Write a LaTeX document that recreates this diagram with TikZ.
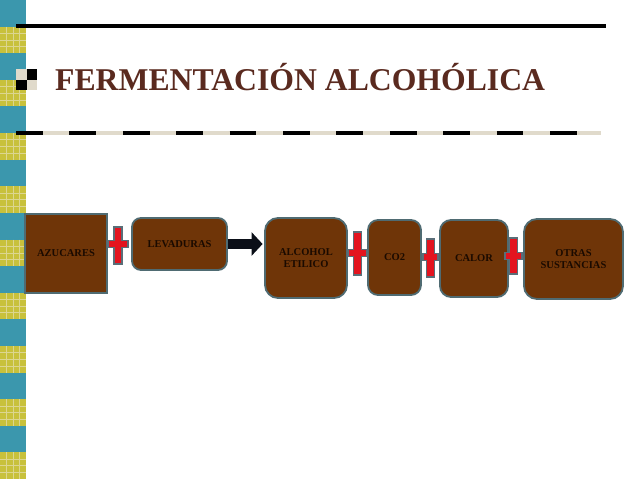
\documentclass[tikz,border=0pt]{standalone}
\usepackage{fontspec}
\setmainfont{Liberation Serif}
\usetikzlibrary{arrows.meta}
\definecolor{stripeteal}{HTML}{3B97AD}
\definecolor{stripeyel}{HTML}{C8C13C}
\definecolor{gridyel}{HTML}{DCD690}
\definecolor{beigec}{HTML}{E0DACB}
\definecolor{titlec}{HTML}{5A2A1F}
\definecolor{boxfill}{HTML}{6F3508}
\definecolor{boxline}{HTML}{4F6B72}
\definecolor{boxtext}{HTML}{1A0A00}
\definecolor{plusred}{HTML}{E3141F}
\definecolor{plusline}{HTML}{5A6E78}
\definecolor{arrowc}{HTML}{0B0F18}
\tikzset{
  stepbox/.style={draw=boxline, line width=1.8pt, fill=boxfill, text=boxtext,
    font=\bfseries\fontsize{10.5}{12.5}\selectfont, align=center, inner sep=0pt},
  plusst/.style={fill=plusred, draw=plusline, line width=1.3pt, line join=miter},
  arrowst/.style={draw=arrowc, line width=10pt, -{Triangle[length=11pt,width=23pt]}}
}
\newcommand\plussign[5]{%
  \filldraw[plusst] ({#1-4},#2) -- ({#1+4},#2) -- ({#1+4},{#5-3.5}) -- ({#1+#4/2},{#5-3.5})
   -- ({#1+#4/2},{#5+3.5}) -- ({#1+4},{#5+3.5}) -- ({#1+4},#3) -- ({#1-4},#3)
   -- ({#1-4},{#5+3.5}) -- ({#1-#4/2},{#5+3.5}) -- ({#1-#4/2},{#5-3.5}) -- ({#1-4},{#5-3.5}) -- cycle;}
\begin{document}
\begin{tikzpicture}[x=1pt,y=-1pt]
\useasboundingbox (0,0) rectangle (638,479);
\fill[white] (0,0) rectangle (638,479);
% left stripe
\foreach \i in {0,2,...,16}{
  \fill[stripeteal] (0,{\i*26.611}) rectangle (26,{(\i+1)*26.611});
  \fill[stripeyel] (0,{(\i+1)*26.611}) rectangle (26,{(\i+2)*26.611});
  \foreach \gx in {6.5,13,19.5}
    \draw[gridyel, line width=0.5pt] (\gx,{(\i+1)*26.611}) -- (\gx,{(\i+2)*26.611});
  \foreach \gy in {6.6,13.3,20}
    \draw[gridyel, line width=0.5pt] (0,{(\i+1)*26.611+\gy}) -- (26,{(\i+1)*26.611+\gy});
}
% top rule
\draw[black, line width=4pt] (16,26) -- (606,26);
% dashed rule
\draw[beigec, line width=4pt] (16,133) -- (601,133);
\draw[black, line width=4pt, dash pattern=on 26.7pt off 26.7pt] (16,133) -- (601,133);
% bullet
\fill[beigec] (16,69) rectangle (26.5,79.5);
\fill[black] (26.5,69) rectangle (37,79.5);
\fill[black] (16,79.5) rectangle (26.5,90);
\fill[beigec] (26.5,79.5) rectangle (37,90);
% title
\node[anchor=base west, inner sep=0pt, text=titlec, font=\bfseries\fontsize{31.7}{36}\selectfont] (title) at (55,90) {FERMENTACIÓN ALCOHÓLICA};
% boxes
\node[stepbox, minimum width=82pt, minimum height=79pt] (az) at (66,253.5) {AZUCARES};
\node[stepbox, rounded corners=9pt, minimum width=95pt, minimum height=52pt] (lev) at (179.5,244) {LEVADURAS};
\node[stepbox, rounded corners=13pt, minimum width=82pt, minimum height=80pt] (alc) at (306,258) {ALCOHOL\\ETILICO};
\node[stepbox, rounded corners=10pt, minimum width=53pt, minimum height=75pt] (co2) at (394.5,257.5) {CO2};
\node[stepbox, rounded corners=11pt, minimum width=68pt, minimum height=77pt] (cal) at (474,258.5) {CALOR};
\node[stepbox, rounded corners=13pt, minimum width=99pt, minimum height=80pt] (otr) at (573.5,259) {OTRAS\\SUSTANCIAS};
% plus signs
\plussign{118}{227}{264}{20}{244}
\plussign{357.5}{232}{275}{19}{253}
\plussign{430.5}{239}{277}{15}{257}
\plussign{513.5}{238}{274}{17}{256}
% arrow
\draw[arrowst, shorten >=1.5pt] (lev.east) -- (lev.east -| alc.west);
\end{tikzpicture}
\end{document}
